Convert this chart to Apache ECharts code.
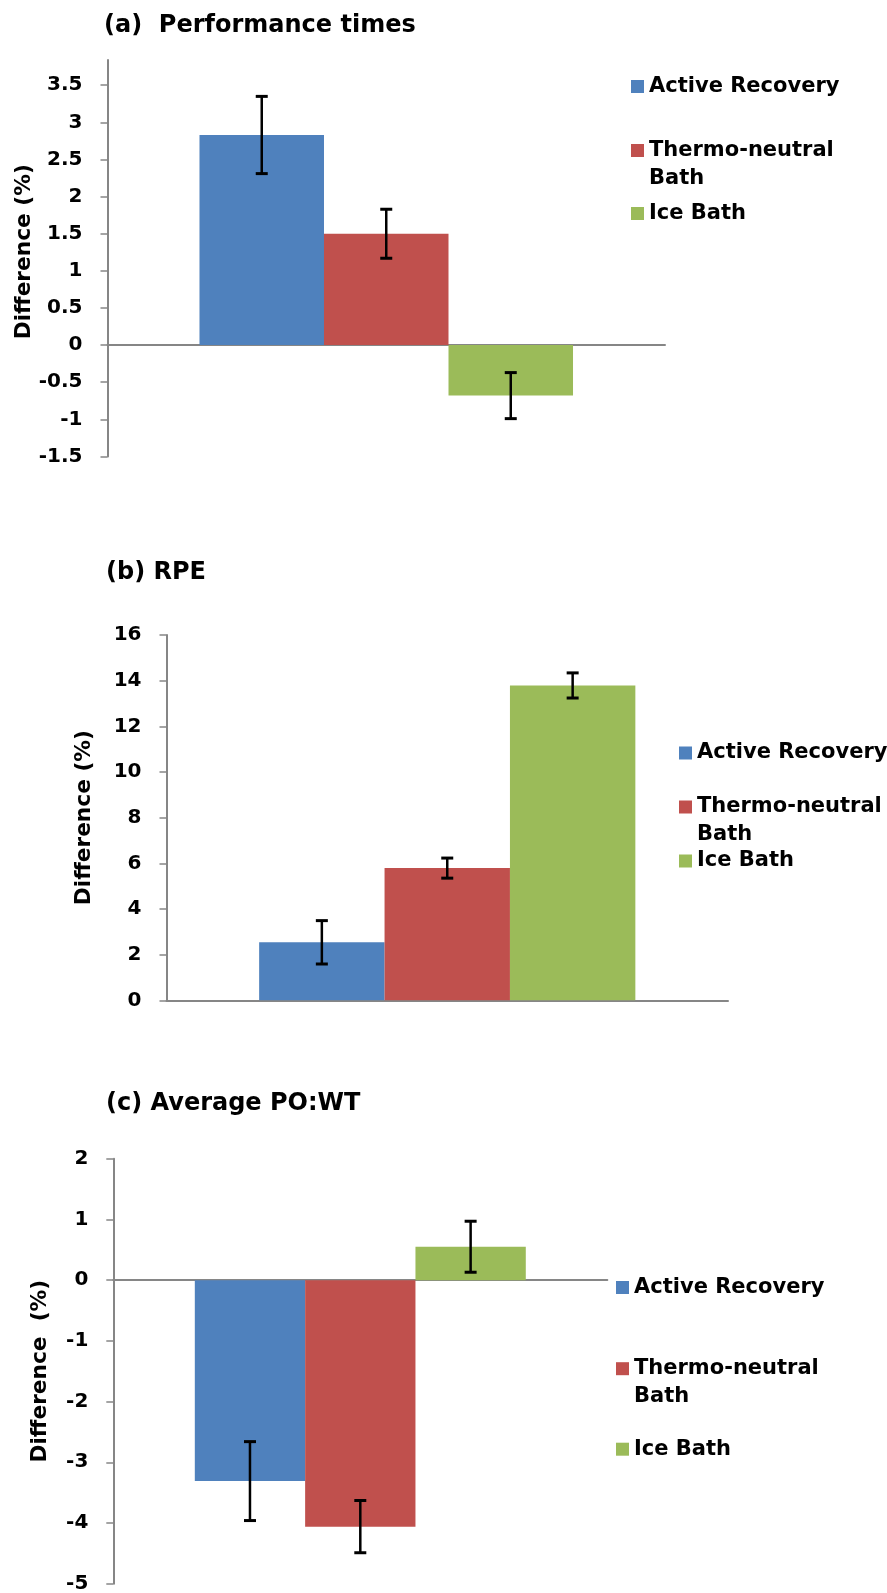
<!DOCTYPE html>
<html>
<head>
<meta charset="utf-8">
<script src="https://cdn.jsdelivr.net/npm/echarts@6/dist/echarts.min.js"></script>
<style>
  html, body { margin: 0; padding: 0; background: #ffffff; }
  #chart { width: 887px; height: 1593px; }
</style>
</head>
<body>
<div id="chart"></div>
<script>
// Recovery conditions, shared by all three panels
const seriesNames = ['Active Recovery', 'Thermo-neutral Bath', 'Ice Bath'];
const seriesColors = ['#4F81BD', '#C0504D', '#9BBB59'];
const categories = [''];

// (a) Performance times: mean difference (%) and error
const perfValues = [2.83, 1.50, -0.68];
const perfErrors = [0.52, 0.33, 0.31];
const perfTicks = [-1.5, -1, -0.5, 0, 0.5, 1, 1.5, 2, 2.5, 3, 3.5];

// (b) RPE
const rpeValues = [2.54, 5.79, 13.79];
const rpeErrors = [0.95, 0.44, 0.55];
const rpeTicks = [0, 2, 4, 6, 8, 10, 12, 14, 16];

// (c) Average PO:WT
const powtValues = [-3.31, -4.06, 0.55];
const powtErrors = [0.65, 0.43, 0.42];
const powtTicks = [-5, -4, -3, -2, -1, 0, 1, 2];

const panelTitles = ['(a)  Performance times', '(b) RPE', '(c) Average PO:WT'];
const axisTitles = ['Difference (%)', 'Difference (%)', 'Difference  (%)'];

const FONT = 'DejaVu Sans';
const AXIS_GREY = '#868686';
const GAP = 0.33;

// layout of each panel; nameShift moves the axis title along the axis (px, upward)
const panels = [
  {
    values: perfValues, errors: perfErrors, ticks: perfTicks,
    grid: { left: 107.5, top: 60, width: 557.5, height: 396.5 },
    yMin: -1.5, yMax: 3.84,
    title: { left: 104, top: 14 },
    nameGap: 83, nameShift: 13,
    legendLeft: 631, legendY: [86.5, 150.5, 213.5]
  },
  {
    values: rpeValues, errors: rpeErrors, ticks: rpeTicks,
    grid: { left: 166.5, top: 635, width: 561.5, height: 365.3 },
    yMin: 0, yMax: 16,
    title: { left: 106, top: 561 },
    nameGap: 82, nameShift: 0,
    legendLeft: 679, legendY: [753, 807, 861]
  },
  {
    values: powtValues, errors: powtErrors, ticks: powtTicks,
    grid: { left: 113.3, top: 1158.7, width: 494, height: 425 },
    yMin: -5, yMax: 2,
    title: { left: 106, top: 1092 },
    nameGap: 73, nameShift: 0,
    legendLeft: 616, legendY: [1287.5, 1368.7, 1449.2]
  }
];

// error bar drawn at the centre of the slot-th bar in the category band
function errorBarRenderer(slot) {
  return function (params, api) {
    const x0 = api.coord([api.value(0), 0])[0];
    const band = api.size([1, 0])[0];
    const barW = band * (1 - GAP) / 3;
    const cx = x0 + (slot - 1) * barW;
    const yLo = api.coord([api.value(0), api.value(1)])[1];
    const yHi = api.coord([api.value(0), api.value(2)])[1];
    const cap = 6;
    return {
      type: 'group',
      children: [
        { type: 'line', shape: { x1: cx, y1: yHi, x2: cx, y2: yLo }, style: { stroke: '#000', lineWidth: 2.5 } },
        { type: 'line', shape: { x1: cx - cap, y1: yHi, x2: cx + cap, y2: yHi }, style: { stroke: '#000', lineWidth: 3 } },
        { type: 'line', shape: { x1: cx - cap, y1: yLo, x2: cx + cap, y2: yLo }, style: { stroke: '#000', lineWidth: 3 } }
      ]
    };
  };
}

// one legend per entry; the two-line entry gets a blank first line so that
// its first text line sits level with the colour square
function legendItem(name, left, centerY) {
  const LH = 28;
  const twoLine = name === 'Thermo-neutral Bath';
  return {
    data: [name],
    orient: 'vertical',
    left: left,
    top: twoLine ? centerY - 1.5 * LH : centerY - LH / 2,
    padding: 0,
    itemWidth: 13,
    itemHeight: 13,
    icon: 'rect',
    selectedMode: false,
    formatter: n => (n === 'Thermo-neutral Bath' ? ' \nThermo-neutral\nBath' : n),
    textStyle: {
      fontFamily: FONT, fontWeight: 'bold', fontSize: 21, color: '#000',
      lineHeight: LH
    }
  };
}

const option = {
  backgroundColor: '#ffffff',
  animation: false,
  title: [],
  legend: [],
  grid: [],
  xAxis: [],
  yAxis: [],
  series: []
};

panels.forEach((p, k) => {
  option.title.push({
    text: panelTitles[k],
    left: p.title.left, top: p.title.top, padding: 0,
    textStyle: { fontFamily: FONT, fontWeight: 'bold', fontSize: 24, color: '#000' }
  });
  option.grid.push(Object.assign({ containLabel: false, outerBoundsMode: 'none' }, p.grid));
  option.xAxis.push({
    type: 'category', gridIndex: k, data: categories,
    axisLine: { onZero: true, lineStyle: { color: AXIS_GREY, width: 2 } },
    axisTick: { show: false }, axisLabel: { show: false }, splitLine: { show: false }
  });
  const nameFont = { fontFamily: FONT, fontWeight: 'bold', fontSize: 21.7, color: '#000' };
  option.yAxis.push({
    type: 'value', gridIndex: k, min: p.yMin, max: p.yMax,
    name: (p.nameShift ? '{s|}' : '') + axisTitles[k],
    nameLocation: 'middle', nameRotate: 90, nameGap: p.nameGap,
    nameMoveOverlap: false,
    nameTextStyle: Object.assign({
      align: 'center', verticalAlign: 'middle',
      rich: { s: Object.assign({ width: p.nameShift }, nameFont) }
    }, nameFont),
    axisLine: { show: true, lineStyle: { color: AXIS_GREY, width: 2 } },
    axisTick: { show: true, inside: false, length: 7, customValues: p.ticks, lineStyle: { color: AXIS_GREY, width: 1.5 } },
    axisLabel: {
      customValues: p.ticks, margin: 25,
      fontFamily: FONT, fontWeight: 'bold', fontSize: 20, color: '#000'
    },
    splitLine: { show: false }
  });

  seriesNames.forEach((name, i) => {
    option.series.push({
      type: 'bar', name: name, xAxisIndex: k, yAxisIndex: k,
      data: [p.values[i]],
      barGap: '0%', barCategoryGap: (GAP * 100) + '%',
      itemStyle: { color: seriesColors[i] },
      emphasis: { disabled: true }
    });
  });
  seriesNames.forEach((name, i) => {
    option.series.push({
      type: 'custom', name: name + ' error', xAxisIndex: k, yAxisIndex: k,
      renderItem: errorBarRenderer(i),
      encode: { x: 0, y: [1, 2] },
      data: [[0, p.values[i] - p.errors[i], p.values[i] + p.errors[i]]],
      clip: false, z: 5
    });
  });
  seriesNames.forEach((name, i) => {
    option.legend.push(legendItem(name, p.legendLeft, p.legendY[i]));
  });
});

const chart = echarts.init(document.getElementById('chart'), null, { renderer: 'canvas' });
chart.setOption(option);
</script>
</body>
</html>
